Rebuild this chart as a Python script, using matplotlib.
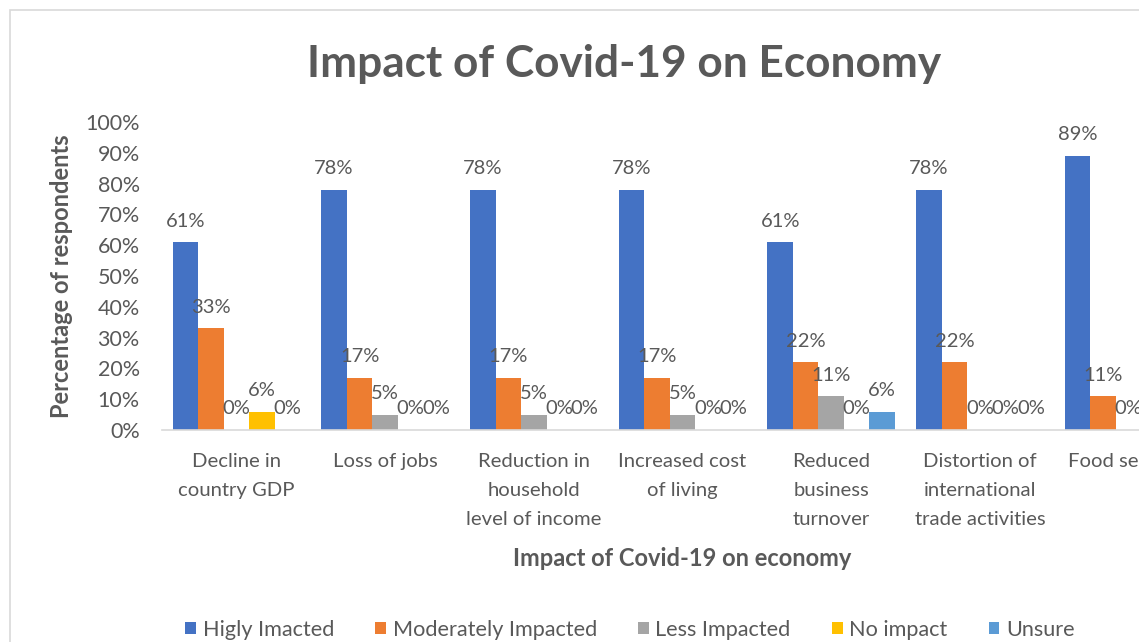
import matplotlib
matplotlib.use("Agg")
import matplotlib.pyplot as plt
from matplotlib.patches import Rectangle
import numpy as np

plt.rcParams['font.family'] = ['Lato', 'DejaVu Sans']

categories = [
    "Decline in\ncountry GDP",
    "Loss of jobs",
    "Reduction in\nhousehold\nlevel of income",
    "Increased cost\nof living",
    "Reduced\nbusiness\nturnover",
    "Distortion of\ninternational\ntrade activities",
    "Food security",
]
series_names = ["Higly Imacted", "Moderately Impacted", "Less Impacted", "No impact", "Unsure"]
highly = [61, 78, 78, 78, 61, 78, 89]
moderately = [33, 17, 17, 17, 22, 22, 11]
less = [0, 5, 5, 5, 11, 0, 0]
no_impact = [6, 0, 0, 0, 0, 0, 0]
unsure = [0, 0, 0, 0, 6, 0, 0]
yticks = [0, 10, 20, 30, 40, 50, 60, 70, 80, 90, 100]

series = [highly, moderately, less, no_impact, unsure]
colors = ["#4472C4", "#ED7D31", "#A5A5A5", "#FFC000", "#5B9BD5"]
text_color = "#595959"

fig = plt.figure(figsize=(11.39, 6.42), dpi=100)
# chart frame (runs past the right and bottom edges)
fig.patches.append(Rectangle((10 / 1139, -0.1), 1.2, (632 / 642) + 0.1,
                             transform=fig.transFigure, fill=False,
                             edgecolor="#d9d9d9", linewidth=1.2, zorder=0))

ax = fig.add_axes([162 / 1139, 212 / 642, 1041 / 1139, 308 / 642])

x = np.arange(len(categories))
bw = 0.1714
for i, (vals, name, c) in enumerate(zip(series, series_names, colors)):
    pos = x + (i - 2) * bw
    ax.bar(pos, vals, width=bw, color=c, label=name, clip_on=False)
    for xp, v in zip(pos, vals):
        ax.annotate(f"{v}%", (xp, v), xytext=(0, 9), textcoords="offset points",
                    ha="center", va="bottom", fontsize=14.5, color=text_color,
                    annotation_clip=False)

ax.set_xlim(-0.5, len(categories) - 0.5)
ax.set_ylim(0, 100)
ax.set_yticks(yticks)
ax.set_yticklabels([f"{t}%" for t in yticks])
ax.set_xticks(x)
ax.set_xticklabels(categories, linespacing=1.85)
ax.tick_params(axis="x", length=0, pad=16.5, labelsize=14.6, labelcolor=text_color)
ax.tick_params(axis="y", length=0, pad=16, labelsize=15.5, labelcolor=text_color)

for s in ["top", "right", "left"]:
    ax.spines[s].set_visible(False)
ax.spines["bottom"].set_color("#d9d9d9")
ax.spines["bottom"].set_linewidth(1.2)

ax.set_xlabel("Impact of Covid-19 on economy", fontsize=17, fontweight="bold",
              color=text_color, labelpad=14)
ax.set_ylabel("Percentage of respondents", fontsize=17, fontweight="bold",
              color=text_color, labelpad=9)

fig.text(624 / 1139, 1 - 64 / 642, "Impact of Covid-19 on Economy", ha="center",
         va="center", fontsize=31.8, fontweight="bold", color=text_color)

leg = fig.legend(loc="center", bbox_to_anchor=(630 / 1139, 12 / 642), ncol=5,
                 frameon=False, fontsize=15.6, handlelength=0.5, handleheight=0.5,
                 handletextpad=0.3, columnspacing=1.9, labelcolor=text_color)

fig.savefig("out.png", dpi=100)
